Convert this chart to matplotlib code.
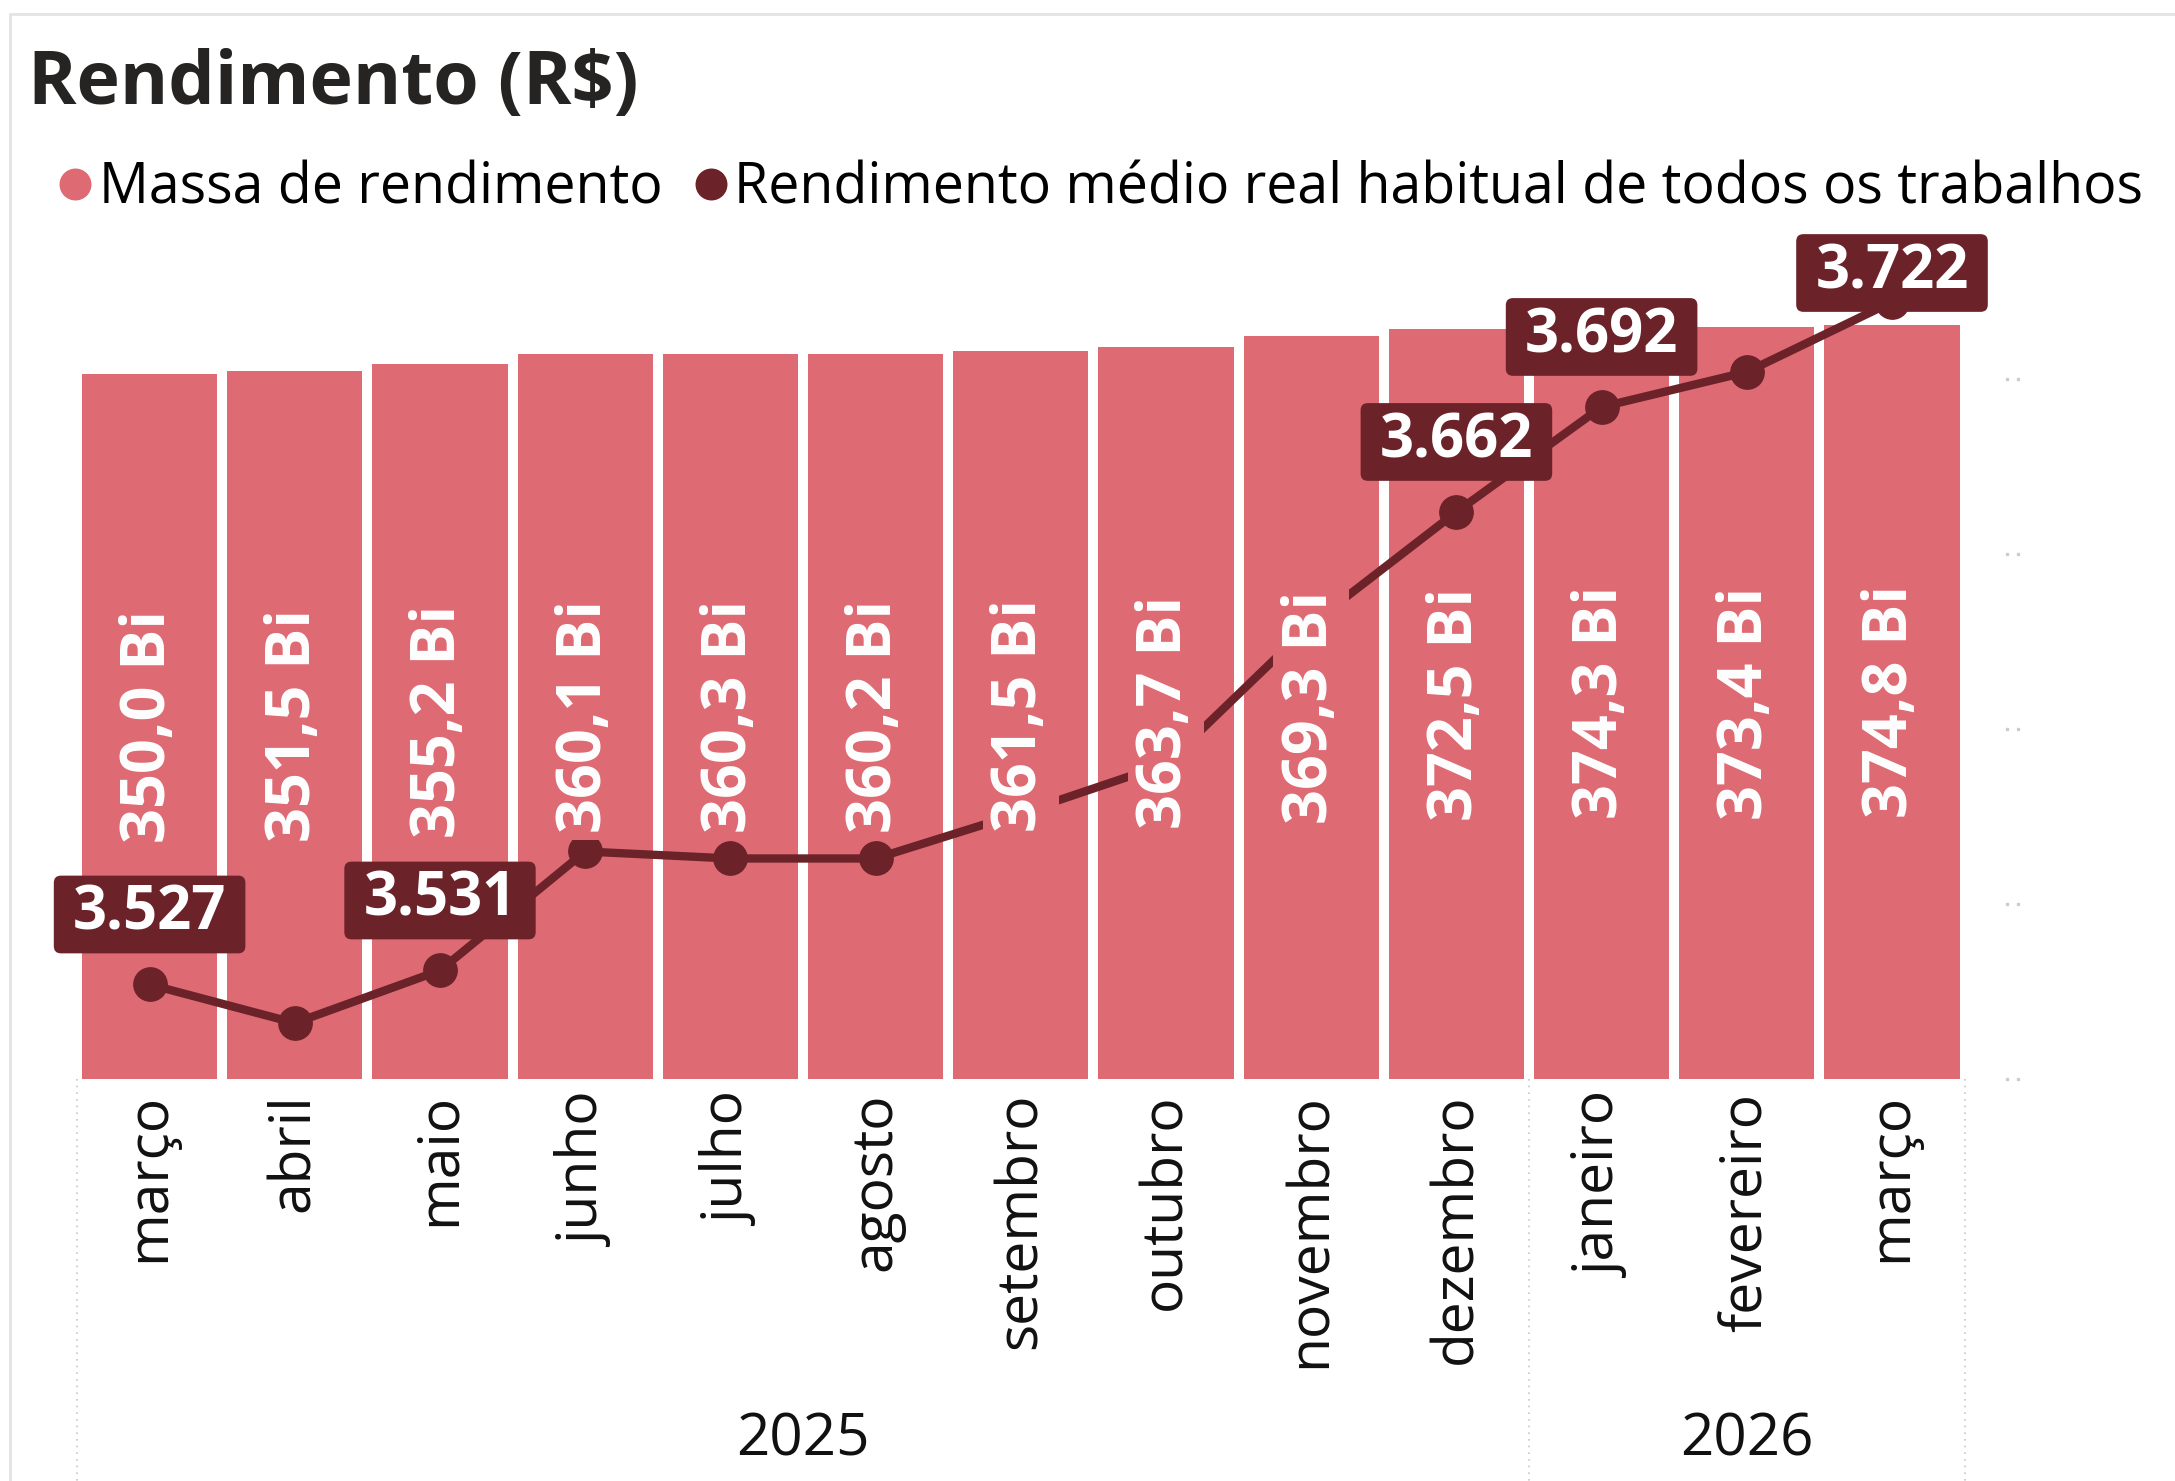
import matplotlib
matplotlib.use("Agg")
import matplotlib.pyplot as plt
from matplotlib.lines import Line2D
from matplotlib.patches import Rectangle, BoxStyle
from matplotlib.transforms import blended_transform_factory

plt.rcParams['font.family'] = ['Open Sans', 'DejaVu Sans']

meses = ["março", "abril", "maio", "junho", "julho", "agosto", "setembro",
         "outubro", "novembro", "dezembro", "janeiro", "fevereiro", "março"]
anos = ["2025"] * 10 + ["2026"] * 3
massa = [350.0, 351.5, 355.2, 360.1, 360.3, 360.2, 361.5, 363.7, 369.3,
         372.5, 374.3, 373.4, 374.8]
medio = [3527, 3516, 3531, 3565, 3563, 3563, 3576, 3590, 3630, 3662,
         3692, 3702, 3722]
rotulos_visiveis = [0, 2, 9, 10, 12]

cor_barra = "#DE6A73"
cor_linha = "#6B2228"
W, H = 2175, 1481


def br_num(v, casas):
    s = f"{v:,.{casas}f}"
    return s.replace(",", "X").replace(".", ",").replace("X", ".")


def caixa(x0, y0, width, height, mutation_size):
    # rounded box, wider padding horizontally than vertically
    px, py = 0.32 * mutation_size, 0.14 * mutation_size
    return BoxStyle.Round(pad=0, rounding_size=0.12)(
        x0 - px, y0 - py, width + 2 * px, height + 2 * py, mutation_size)


fig = plt.figure(figsize=(W / 100, H / 100), dpi=100)
fig.patches.append(Rectangle((10 / W, -0.1), 1.2, 1 - 14 / H + 0.1,
                             transform=fig.transFigure, fill=False,
                             ec="#E3E3E3", lw=2))

left, right, top, bottom = 77, 2025, 236, 1079
ax = fig.add_axes([left / W, 1 - bottom / H, (right - left) / W, (bottom - top) / H])
ax2 = ax.twinx()

x = list(range(len(meses)))
ax.bar(x, massa, width=0.93, color=cor_barra, zorder=1)
ax.set_xlim(-0.5, -0.5 + (right - left) / 145.2)
ax.set_ylim(0, (bottom - top) / 2.013)
ax2.set_ylim(3500, 3500 + (bottom - top) * 0.2857)

ax2.plot(x, medio, color=cor_linha, lw=6, marker="o", ms=24, zorder=2,
         solid_joinstyle="round", solid_capstyle="round")

# bar labels live on ax2 so they cover the line
for i, v in enumerate(massa):
    ax2.text(i, v / 2, br_num(v, 1) + " Bi", transform=ax.transData,
             rotation=90, ha="center", va="center", color="white",
             fontsize=44, fontweight="bold", zorder=3,
             bbox=dict(boxstyle="square,pad=0.12", fc=cor_barra, ec="none"))

# line labels, pushed down if they would leave the plot area
px_por_unidade = ax2.bbox.height / (ax2.get_ylim()[1] - ax2.get_ylim()[0])
for i in rotulos_visiveis:
    v = medio[i]
    espaco = (ax2.get_ylim()[1] - v) * px_por_unidade
    off_px = min(70, espaco - 37)
    ax2.annotate(br_num(v, 0), (i, v), xytext=(0, off_px * 0.72),
                 textcoords="offset points", ha="center", va="center",
                 color="white", fontsize=43, fontweight="bold", zorder=4,
                 bbox=dict(boxstyle=caixa, fc=cor_linha, ec="none"))

for a in (ax, ax2):
    for s in a.spines.values():
        s.set_visible(False)
    a.set_yticks([])

ax.set_xticks(x)
ax.set_xticklabels(meses, rotation=90, fontsize=41, color="#111111")
ax.tick_params(axis="x", length=0, pad=10)

# grid remnants on the right
trans_g = blended_transform_factory(ax2.transAxes, ax2.transData)
for gy in [3500, 3550, 3600, 3650, 3700]:
    ax2.plot([0.9908, 0.9964], [gy, gy], transform=trans_g, ls="none",
             marker="s", ms=1.5, color="#CCCCCC", clip_on=False)

# year groups
trans_x = ax.get_xaxis_transform()
grupos = []
for i, a in enumerate(anos):
    if not grupos or grupos[-1][0] != a:
        grupos.append([a, i, i])
    else:
        grupos[-1][2] = i
limites = [grupos[0][1] - 0.5] + [g[2] + 0.5 for g in grupos]
for b in limites:
    ax.plot([b, b], [0, -0.5], transform=trans_x, clip_on=False,
            color="#C8C8C8", lw=1.2, ls=(0, (1, 3)))
for nome, i0, i1 in grupos:
    ax.text((i0 + i1) / 2, -0.447, nome, transform=trans_x, ha="center",
            va="baseline", fontsize=42, color="#111111")

fig.text(28 / W, 1 - 104 / H, "Rendimento (R$)", fontsize=53,
         fontweight="bold", va="baseline", color="#252423")

handles = [Line2D([], [], ls="none", marker="o", ms=22, color=cor_barra),
           Line2D([], [], ls="none", marker="o", ms=22, color=cor_linha)]
fig.legend(handles, ["Massa de rendimento",
                     "Rendimento médio real habitual de todos os trabalhos"],
           loc="upper left", bbox_to_anchor=(58 / W, 1 - 160 / H), ncol=2,
           frameon=False, fontsize=40, handlelength=0.62, handletextpad=0.12,
           columnspacing=0.55, borderaxespad=0, borderpad=0)

fig.savefig("out.png", dpi=100)
